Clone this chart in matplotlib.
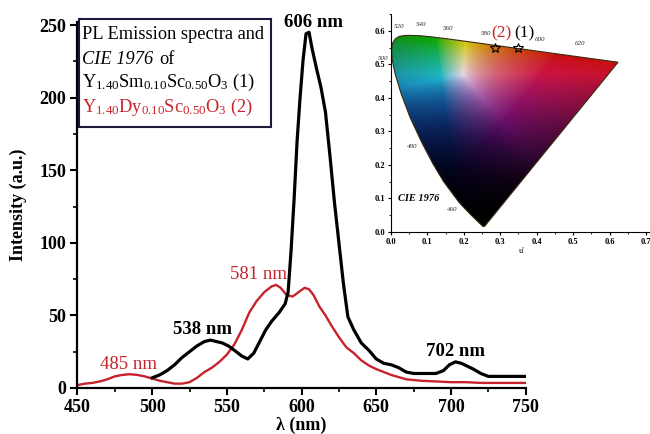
import matplotlib
matplotlib.use('Agg')
import matplotlib.pyplot as plt
import numpy as np
from matplotlib.patches import Polygon, Rectangle
from matplotlib.ticker import MultipleLocator, FormatStrFormatter

plt.rcParams['font.family'] = ['Liberation Serif', 'DejaVu Serif']
plt.rcParams['mathtext.fontset'] = 'custom'
plt.rcParams['mathtext.rm'] = 'Liberation Serif'
plt.rcParams['mathtext.it'] = 'Liberation Serif:italic'
plt.rcParams['mathtext.bf'] = 'Liberation Serif:bold'

# PL spectrum (1) Y1.40Sm0.10Sc0.50O3
wl_sm = [500, 505, 510, 515, 520, 525, 530, 535, 539, 543, 547, 551, 555,
         560, 564, 568, 572, 576, 580, 585, 589, 591, 593, 595, 597, 599,
         601, 603, 605, 607, 610, 613, 616, 619, 622, 625, 628, 631, 635,
         640, 645, 650, 655, 660, 665, 670, 675, 680, 685, 690, 695, 699,
         703, 707, 711, 715, 720, 725, 730, 740, 750]
int_sm = [7, 9, 12, 16, 21, 25, 29, 32, 33, 32, 31, 29, 26,
          22, 20, 24, 32, 40, 46, 52, 58, 66, 95, 130, 170, 200,
          226, 244, 245, 234, 220, 207, 190, 160, 128, 100, 72, 49, 40,
          31, 26, 20, 17, 16, 14, 11, 10, 10, 10, 10, 12, 16,
          18, 17, 15, 13, 10, 8, 8, 8, 8]

# PL spectrum (2) Y1.40Dy0.10Sc0.50O3
wl_dy = [450, 455, 460, 465, 470, 475, 480, 485, 490, 495, 500, 505, 510,
         515, 520, 525, 530, 535, 540, 545, 550, 555, 560, 565, 570, 575,
         580, 583, 586, 590, 594, 598, 602, 605, 608, 612, 616, 620, 625,
         630, 635, 640, 645, 650, 655, 660, 665, 670, 680, 690, 700, 710,
         720, 730, 740, 750]
int_dy = [2, 3, 3.5, 4.5, 6, 8, 9, 9.5, 9, 8, 6.5, 5, 4,
          3, 3, 4, 7, 11, 14, 18, 23, 30, 40, 52, 60, 66,
          70, 71, 69, 64, 63, 66, 69, 68, 64, 56, 50, 43, 35,
          28, 24, 19, 15.5, 13, 11, 9, 7.5, 6, 5, 4.5, 4, 4,
          3.5, 3.5, 3.5, 3.5]

# peak labels
peak_text = ['606 nm', '538 nm', '702 nm', '581 nm', '485 nm']
peak_pos = [(608, 252), (534, 40), (703, 25), (571, 78), (484, 16.5)]
peak_col = ['black', 'black', 'black', 'red', 'red']

# CIE 1931 spectral locus (x, y) used for the CIE 1976 inset
locus_nm = [380, 420, 440, 450, 460, 470, 475, 480, 485, 490, 495, 500, 505,
            510, 515, 520, 525, 530, 540, 550, 560, 570, 580, 590, 600, 610,
            620, 640, 700]
locus_x = [0.1741, 0.1714, 0.1644, 0.1566, 0.1440, 0.1241, 0.1096, 0.0913,
           0.0687, 0.0454, 0.0235, 0.0082, 0.0039, 0.0139, 0.0389, 0.0743,
           0.1142, 0.1547, 0.2296, 0.3016, 0.3731, 0.4441, 0.5125, 0.5752,
           0.6270, 0.6658, 0.6915, 0.7190, 0.7347]
locus_y = [0.0050, 0.0051, 0.0109, 0.0177, 0.0297, 0.0578, 0.0868, 0.1327,
           0.2007, 0.2950, 0.4127, 0.5384, 0.6548, 0.7502, 0.8120, 0.8338,
           0.8262, 0.8059, 0.7543, 0.6923, 0.6245, 0.5547, 0.4866, 0.4242,
           0.3725, 0.3340, 0.3083, 0.2809, 0.2653]

# wavelength marks on the inset
wl_marks = ['460', '480', '500', '520', '540', '560', '580', '600', '620']
wl_marks_uv = [(0.167, 0.066), (0.057, 0.255), (-0.022, 0.518), (0.022, 0.613),
               (0.082, 0.618), (0.157, 0.608), (0.262, 0.593), (0.41, 0.575),
               (0.52, 0.561)]

# chromaticity points of the samples
samples = ['(2)', '(1)']
sample_u = [0.286, 0.350]
sample_v = [0.548, 0.548]
sample_col = ['#c8232c', 'black']

red = '#c8232c'
fs = 13.2

fig = plt.figure(figsize=(6.5, 4.34), dpi=100)
ax = fig.add_axes([0.1192, 0.106, 0.6895, 0.843])

ax.plot(wl_dy, int_dy, color=red, lw=1.7)
ax.plot(wl_sm, int_sm, color='black', lw=2.3)

ax.set_xlim(450, 750)
ax.set_ylim(0, 252)
ax.xaxis.set_major_locator(MultipleLocator(50))
ax.xaxis.set_minor_locator(MultipleLocator(25))
ax.yaxis.set_major_locator(MultipleLocator(50))
ax.yaxis.set_minor_locator(MultipleLocator(25))
ax.spines['top'].set_visible(False)
ax.spines['right'].set_visible(False)
ax.spines['left'].set_linewidth(1.6)
ax.spines['bottom'].set_linewidth(1.6)
ax.tick_params(which='major', length=5, width=1.5, labelsize=13, pad=3)
ax.tick_params(which='minor', length=3, width=1.2)
for lab in ax.get_xticklabels() + ax.get_yticklabels():
    lab.set_fontweight('bold')

ax.set_xlabel('λ (nm)', fontsize=13, fontweight='bold')
ax.set_ylabel('Intensity (a.u.)', fontsize=13, fontweight='bold')
ax.xaxis.set_label_coords(0.5, -0.078)
ax.yaxis.set_label_coords(-0.112, 0.5)

for t, (px, py), c in zip(peak_text, peak_pos, peak_col):
    if c == 'black':
        ax.text(px, py, t, color='black', fontsize=13.5, fontweight='bold',
                ha='center', va='center', clip_on=False)
    else:
        ax.text(px, py, t, color=red, fontsize=13.5,
                ha='center', va='center', clip_on=False)

# legend-like box
ax.add_patch(Rectangle((451, 179.8), 128.5, 74.3, fill=False, ec='#1a1a3a',
                       lw=1.5, clip_on=False))
ax.text(453, 243.8, 'PL Emission spectra and', fontsize=fs, va='center')
ax.text(453, 226.6, 'CIE 1976', fontsize=fs, va='center', fontstyle='italic')
ax.text(505, 226.6, 'of', fontsize=fs, va='center')
ax.text(453, 210.7, r'Y$_{\mathrm{1.40}}$Sm$_{\mathrm{0.10}}$Sc$_{\mathrm{0.50}}$O$_{\mathrm{3}}$ (1)',
        fontsize=fs, va='center')
ax.text(453, 193.5, r'Y$_{\mathrm{1.40}}$Dy$_{\mathrm{0.10}}$Sc$_{\mathrm{0.50}}$O$_{\mathrm{3}}$ (2)',
        fontsize=fs, va='center', color=red)

# CIE 1976 inset
ins = fig.add_axes([0.6015, 0.4654, 0.4035, 0.502])
ins.set_facecolor('none')
lx = np.array(locus_x)
ly = np.array(locus_y)
den = -2 * lx + 12 * ly + 3
lu = 4 * lx / den
lv = 9 * ly / den

uu = np.linspace(0, 0.66, 330)
vv = np.linspace(0, 0.6, 300)
U, V = np.meshgrid(uu, vv)
d = 6 * U - 16 * V + 12
cx = 9 * U / d
cy = np.maximum(4 * V / d, 1e-4)
X = cx / cy
Y = np.ones_like(X)
Z = (1 - cx - cy) / cy
R = 3.2406 * X - 1.5372 * Y - 0.4986 * Z
G = -0.9689 * X + 1.8758 * Y + 0.0415 * Z
B = 0.0557 * X - 0.2040 * Y + 1.0570 * Z
rgb = np.clip(np.dstack([R, G, B]), 0, None)
rgb = rgb / (rgb.max(axis=2, keepdims=True) + 1e-9)
rgb = rgb ** (1 / 1.5)
gray = rgb.mean(axis=2, keepdims=True)
rgb = 0.8 * rgb + 0.2 * gray
# green / cyan corner is muted in the print
rgb[..., 1] *= 1 - 0.3 * np.clip((0.25 - U) / 0.25, 0, 1)
dark = np.clip((V - 0.03) / 0.44, 0, 1) ** 1.8
rgb = np.clip(rgb * dark[..., None] * 0.9, 0, 1)

im = ins.imshow(rgb, origin='lower', extent=[0, 0.66, 0, 0.6],
                interpolation='bilinear', aspect='auto')
gamut = Polygon(np.column_stack([lu, lv]), closed=True, fc='none',
                ec='#3a2a10', lw=0.8, transform=ins.transData)
ins.add_patch(gamut)
im.set_clip_path(gamut)

for t, (mu, mv) in zip(wl_marks, wl_marks_uv):
    ins.text(mu, mv, t, fontsize=5, ha='center', va='center', color='#333333',
             fontstyle='italic', clip_on=False)

for t, su, sv, c in zip(samples, sample_u, sample_v, sample_col):
    ins.plot(su, sv, marker='*', ms=7, mfc='none', mec='black', mew=0.8)
    ins.text(su + 0.016, sv + 0.046, t, fontsize=12.5, color=c,
             ha='center', va='center')

ins.text(0.02, 0.1, 'CIE 1976', fontsize=7.5, fontweight='bold',
         fontstyle='italic', va='center')

ins.set_xlim(0, 0.72)
ins.set_ylim(0, 0.65)
ins.xaxis.set_major_locator(MultipleLocator(0.1))
ins.xaxis.set_minor_locator(MultipleLocator(0.05))
ins.yaxis.set_major_locator(MultipleLocator(0.1))
ins.yaxis.set_minor_locator(MultipleLocator(0.05))
ins.spines['top'].set_visible(False)
ins.spines['right'].set_visible(False)
ins.tick_params(which='major', length=2.5, width=0.8, labelsize=6, pad=1.5)
ins.tick_params(which='minor', length=1.5, width=0.6)
ins.xaxis.set_major_formatter(FormatStrFormatter('%.1f'))
ins.yaxis.set_major_formatter(FormatStrFormatter('%.1f'))
for lab in ins.get_xticklabels() + ins.get_yticklabels():
    lab.set_fontweight('bold')
ins.set_xlabel("u'", fontsize=6, labelpad=1)

fig.savefig('out.png', dpi=100)
